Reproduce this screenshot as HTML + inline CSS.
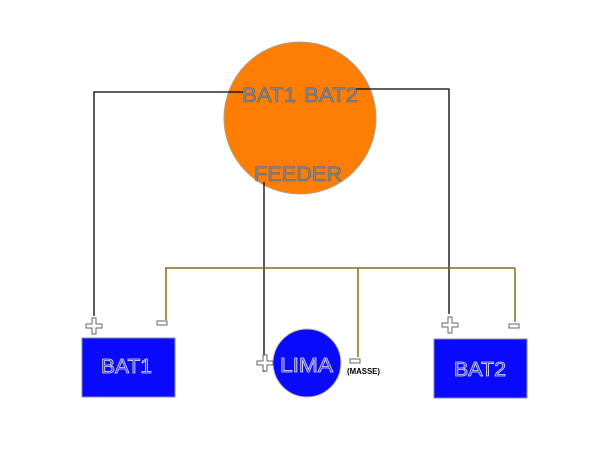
<!DOCTYPE html>
<html><head><style>body{margin:0;background:#fff}svg{display:block}</style></head><body>
<svg width="600" height="450" xmlns="http://www.w3.org/2000/svg" font-family="Liberation Sans, sans-serif">
<rect width="600" height="450" fill="#fff"/>
<circle cx="300" cy="118" r="76" fill="#fe7d03" stroke="#b0a090" stroke-width="1"/>
<g stroke="#000" stroke-width="1.3" fill="none">
<polyline points="243,92 94,92 94,316"/>
<polyline points="355,89 449,89 449,314"/>
<line x1="264" y1="182" x2="264" y2="372"/>
</g>
<g stroke="#8a6a1a" stroke-width="1.5" fill="none">
<line x1="165" y1="268" x2="515" y2="268"/>
<line x1="166" y1="268" x2="166" y2="320"/>
<line x1="358" y1="268" x2="358" y2="357"/>
<line x1="515" y1="268" x2="515" y2="322"/>
</g>
<g font-size="21" fill="#888" stroke="#556680" stroke-width="0.6">
<text x="242" y="102" textLength="54" lengthAdjust="spacingAndGlyphs">BAT1</text>
<text x="304" y="102" textLength="54" lengthAdjust="spacingAndGlyphs">BAT2</text>
<text x="254" y="181" textLength="88" lengthAdjust="spacingAndGlyphs">FEEDER</text>
</g>
<rect x="82" y="338" width="93" height="59" fill="#0a0aff" stroke="#8888aa"/>
<rect x="434" y="339" width="93" height="59" fill="#0a0aff" stroke="#8888aa"/>
<circle cx="307" cy="363" r="34" fill="#0a0aff" stroke="#c8c0a0"/>
<g font-size="20" fill="#2a2ae0" stroke="#ddd" stroke-width="0.8">
<text x="101" y="373" textLength="51" lengthAdjust="spacingAndGlyphs">BAT1</text>
<text x="454" y="376" textLength="52" lengthAdjust="spacingAndGlyphs">BAT2</text>
<text x="280" y="372" textLength="53" lengthAdjust="spacingAndGlyphs">LIMA</text>
</g>
<g fill="#fff" stroke="#666" stroke-width="1">
<path d="M92,318h4v6h6v4h-6v6h-4v-6h-6v-4h6z"/>
<path d="M448,317h4v6h6v4h-6v6h-4v-6h-6v-4h6z"/>
<path d="M263,355h4v6h6v4h-6v6h-4v-6h-6v-4h6z"/>
<rect x="157" y="321" width="10" height="4"/>
<rect x="509" y="324" width="10" height="4"/>
<rect x="350" y="359" width="10" height="4"/>
</g>
<text x="347" y="374" font-size="8" font-weight="bold" fill="#000" textLength="33" lengthAdjust="spacingAndGlyphs">(MASSE)</text>
</svg>
</body></html>
